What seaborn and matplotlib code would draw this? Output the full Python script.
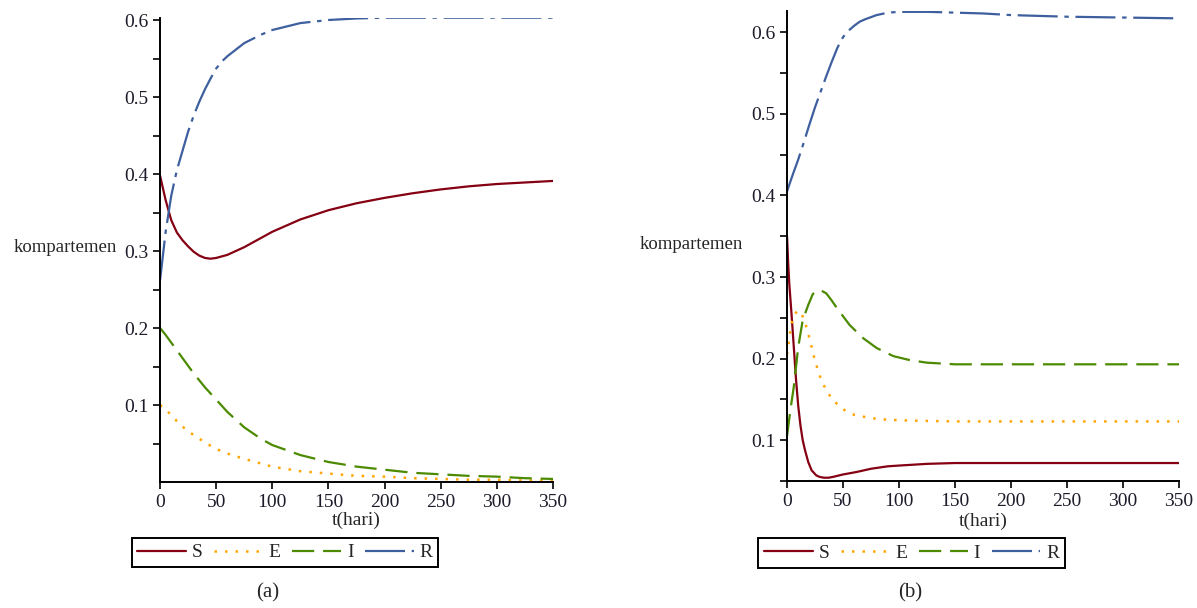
import matplotlib
matplotlib.use("Agg")

import matplotlib.pyplot as plt
import seaborn as sns

# panel (a) - shared time grid
t_a = [0, 5, 10, 15, 20, 25, 30, 35, 40, 45, 50, 55, 60, 75, 90, 100, 125,
       150, 175, 200, 225, 250, 275, 300, 325, 350]
S_a = [0.398, 0.366, 0.340, 0.324, 0.314, 0.306, 0.299, 0.294, 0.291, 0.290,
       0.291, 0.293, 0.295, 0.305, 0.317, 0.325, 0.341, 0.353, 0.362, 0.369,
       0.375, 0.380, 0.384, 0.387, 0.389, 0.391]
E_a = [0.100, 0.094, 0.087, 0.079, 0.072, 0.066, 0.061, 0.056, 0.052, 0.047,
       0.043, 0.040, 0.037, 0.030, 0.024, 0.020, 0.014, 0.011, 0.008, 0.007,
       0.005, 0.004, 0.003, 0.003, 0.002, 0.002]
I_a = [0.200, 0.191, 0.181, 0.171, 0.161, 0.151, 0.141, 0.132, 0.123, 0.115,
       0.107, 0.099, 0.091, 0.071, 0.056, 0.048, 0.035, 0.026, 0.020, 0.016,
       0.012, 0.010, 0.008, 0.007, 0.005, 0.004]
R_a = [0.262, 0.325, 0.372, 0.405, 0.430, 0.455, 0.476, 0.494, 0.510, 0.524,
       0.537, 0.546, 0.553, 0.570, 0.581, 0.587, 0.596, 0.600, 0.602, 0.603,
       0.603, 0.603, 0.603, 0.603, 0.603, 0.603]

# panel (b) - each series read on its own time points
tS_b = [0, 1, 2, 4, 6, 8, 10, 12, 14, 16, 19, 22, 26, 29, 33, 37, 41, 50, 62,
        75, 90, 101, 125, 150, 200, 250, 300, 350]
S_b = [0.350, 0.318, 0.292, 0.255, 0.215, 0.175, 0.142, 0.118, 0.100, 0.088,
       0.073, 0.063, 0.057, 0.055, 0.054, 0.054, 0.055, 0.058, 0.061, 0.065,
       0.068, 0.069, 0.071, 0.072, 0.072, 0.072, 0.072, 0.072]
tE_b = [0, 2, 4, 7, 10, 13, 16, 20, 25, 30, 35, 40, 45, 50, 55, 60, 75, 90,
        110, 150, 200, 250, 300, 350]
E_b = [0.205, 0.225, 0.243, 0.255, 0.259, 0.255, 0.245, 0.225, 0.197, 0.176,
       0.161, 0.151, 0.144, 0.138, 0.134, 0.131, 0.127, 0.125, 0.124, 0.123,
       0.123, 0.123, 0.123, 0.123]
tI_b = [0, 3, 6, 10, 14, 19, 23, 26, 28, 31, 35, 40, 45, 56, 68, 80, 95, 110,
        125, 150, 200, 250, 300, 350]
I_b = [0.105, 0.137, 0.165, 0.214, 0.247, 0.266, 0.279, 0.283, 0.284, 0.283,
       0.280, 0.271, 0.261, 0.241, 0.225, 0.213, 0.203, 0.198, 0.195, 0.193,
       0.193, 0.193, 0.193, 0.193]
tR_b = [0, 5, 10, 15, 20, 25, 30, 35, 40, 45, 50, 55, 60, 65, 70, 80, 90, 100,
        125, 150, 175, 200, 250, 300, 350]
R_b = [0.405, 0.425, 0.444, 0.465, 0.487, 0.508, 0.527, 0.546, 0.564, 0.581,
       0.594, 0.602, 0.608, 0.613, 0.616, 0.621, 0.624, 0.625, 0.625, 0.624,
       0.623, 0.621, 0.619, 0.618, 0.617]

labels = ["S", "E", "I", "R"]
colors = ["#850012", "#FFA500", "#4C8A00", "#3E5F9E"]
styles = ["-", (0, (1, 3.2)), (0, (10, 4)), (0, (18, 3, 2, 3))]

sns.set_style("ticks")
plt.rcParams["font.family"] = ["Liberation Serif", "DejaVu Serif"]

fig = plt.figure(figsize=(11.97, 6.08), dpi=100)
ax_a = fig.add_axes([0.1337, 0.2072, 0.3283, 0.7637])
ax_b = fig.add_axes([0.6575, 0.2089, 0.3275, 0.7730])

panels = [
    (ax_a, [(t_a, S_a), (t_a, E_a), (t_a, I_a), (t_a, R_a)], (0.0, 0.603), "(a)", 0.224),
    (ax_b, [(tS_b, S_b), (tE_b, E_b), (tI_b, I_b), (tR_b, R_b)], (0.05, 0.626), "(b)", 0.760),
]

for ax, series, ylim, caption, cx in panels:
    for (tt, vals), lab, col, ls in zip(series, labels, colors, styles):
        lw = 1.8 if lab == "E" else 1.6
        sns.lineplot(x=tt, y=vals, ax=ax, color=col, lw=lw, linestyle=ls,
                     errorbar=None, sort=True, legend=False)
    ax.set_xlim(0, 350)
    ax.set_ylim(*ylim)
    ax.set_xticks(range(0, 351, 50))
    ax.set_yticks([0.1, 0.2, 0.3, 0.4, 0.5, 0.6])
    ax.set_yticklabels(["0.1", "0.2", "0.3", "0.4", "0.5", "0.6"])
    ax.set_yticks([0.05, 0.15, 0.25, 0.35, 0.45, 0.55], minor=True)
    ax.tick_params(axis="both", which="both", direction="out", length=5,
                   width=1.2, color="black", labelsize=14, labelcolor="#1c1c2a")
    sns.despine(ax=ax)
    for sp in ["left", "bottom"]:
        ax.spines[sp].set_color("black")
        ax.spines[sp].set_linewidth(1.4)

    ax.set_xlabel("t(hari)", fontsize=14, va="center")
    ax.set_ylabel("kompartemen", fontsize=13.5, rotation=0, ha="right", va="center")

    leg = ax.legend(ax.get_lines(), labels, ncol=4, loc="center",
                    frameon=True, fancybox=False, edgecolor="black",
                    fontsize=14, handlelength=2.5, handletextpad=0.3,
                    columnspacing=0.6, borderpad=0.3, borderaxespad=0)
    leg.get_frame().set_linewidth(1.4)
    leg.get_frame().set_alpha(1)

    fig.text(cx, 0.025, caption, fontsize=15, ha="center", va="center")

ax_a.xaxis.set_label_coords(0.5, -0.082)
ax_a.yaxis.set_label_coords(-0.109, 0.506)
ax_a.get_legend().set_bbox_to_anchor((0.318, -0.152))
ax_b.xaxis.set_label_coords(0.5, -0.085)
ax_b.yaxis.set_label_coords(-0.112, 0.503)
ax_b.get_legend().set_bbox_to_anchor((0.318, -0.153))

fig.savefig("out.png", dpi=100)
